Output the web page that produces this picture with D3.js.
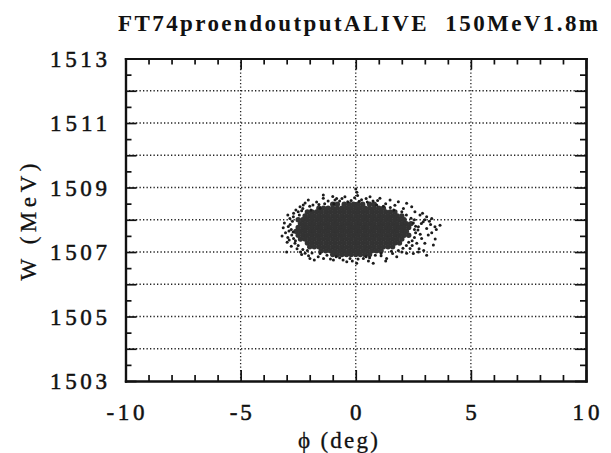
<!DOCTYPE html>
<html><head><meta charset="utf-8">
<script src="https://cdn.jsdelivr.net/npm/d3@7"></script>
<style>html,body{margin:0;padding:0;background:#fff;} svg{display:block}</style>
</head><body><svg id="c" width="611" height="453"></svg>
<script>
const title = "FT74proendoutputALIVE  150MeV1.8m";
const xLabel = "\u03D5 (deg)";
const yLabel = "W (MeV)";
const xDomain = [-10, 10];
const yDomain = [1503, 1513];
const xTickLabels = [-10, -5, 0, 5, 10];
const yTickLabels = [1503, 1505, 1507, 1509, 1511, 1513];
const xMajor = [-10, -5, 0, 5, 10];
const xMinor = [-9,-8,-7,-6,-4,-3,-2,-1,1,2,3,4,6,7,8,9];
const yMajor = [1503,1504,1505,1506,1507,1508,1509,1510,1511,1512,1513];
const yMinor = [1503.5,1504.5,1505.5,1506.5,1507.5,1508.5,1509.5,1510.5,1511.5,1512.5];
const xGrid = [-5, 0, 5];
const yGrid = [1504,1505,1506,1507,1508,1509,1510,1511,1512];

// dense core of the particle cloud, read row by row (W in MeV, phi in deg)
const coreW = [1508.48,1508.36,1508.24,1508.12,1508.00,1507.88,1507.76,1507.64,1507.52,1507.40,1507.28,1507.16,1507.04,1506.92];
const corePhi = [
  [-1.0,-0.8,-0.5,-0.3,-0.1,0.1,0.3,0.6,0.8],
  [-1.6,-1.4,-1.2,-1.0,-0.8,-0.6,-0.4,-0.2,0,0.2,0.4,0.6,0.8,1.0,1.2],
  [-2.1,-1.9,-1.7,-1.5,-1.3,-1.1,-0.9,-0.7,-0.5,-0.3,-0.1,0.1,0.3,0.5,0.7,0.9,1.1,1.3,1.5,1.7],
  [-2.2,-2.0,-1.8,-1.6,-1.4,-1.2,-1.0,-0.8,-0.6,-0.4,-0.2,0,0.2,0.4,0.6,0.8,1.0,1.2,1.4,1.6,1.8,2.0],
  [-2.5,-2.3,-2.1,-1.9,-1.7,-1.5,-1.3,-1.1,-0.9,-0.7,-0.5,-0.3,-0.1,0.1,0.3,0.5,0.7,0.9,1.1,1.3,1.5,1.7,1.9,2.1],
  [-2.4,-2.2,-2.0,-1.8,-1.6,-1.4,-1.2,-1.0,-0.8,-0.6,-0.4,-0.2,0,0.2,0.4,0.6,0.8,1.0,1.2,1.4,1.6,1.8,2.0,2.2,2.4],
  [-2.5,-2.3,-2.1,-1.9,-1.7,-1.5,-1.3,-1.1,-0.9,-0.7,-0.5,-0.3,-0.1,0.1,0.3,0.5,0.7,0.9,1.1,1.3,1.5,1.7,1.9,2.1,2.3],
  [-2.6,-2.4,-2.2,-2.0,-1.8,-1.6,-1.4,-1.2,-1.0,-0.8,-0.6,-0.4,-0.2,0,0.2,0.4,0.6,0.8,1.0,1.2,1.4,1.6,1.8,2.0,2.2],
  [-2.5,-2.3,-2.1,-1.9,-1.7,-1.5,-1.3,-1.1,-0.9,-0.7,-0.5,-0.3,-0.1,0.1,0.3,0.5,0.7,0.9,1.1,1.3,1.5,1.7,1.9,2.1,2.3],
  [-2.4,-2.2,-2.0,-1.8,-1.6,-1.4,-1.2,-1.0,-0.8,-0.6,-0.4,-0.2,0,0.2,0.4,0.6,0.8,1.0,1.2,1.4,1.6,1.8,2.0],
  [-2.1,-1.9,-1.7,-1.5,-1.3,-1.1,-0.9,-0.7,-0.5,-0.3,-0.1,0.1,0.3,0.5,0.7,0.9,1.1,1.3,1.5,1.7,1.9],
  [-2.0,-1.8,-1.6,-1.4,-1.2,-1.0,-0.8,-0.6,-0.4,-0.2,0,0.2,0.4,0.6,0.8,1.0,1.2,1.4,1.6],
  [-1.5,-1.3,-1.1,-0.9,-0.7,-0.5,-0.3,-0.1,0.1,0.3,0.5,0.7,0.9,1.1],
  [-1.0,-0.8,-0.6,-0.4,-0.2,0,0.2,0.4,0.6]
];

// scattered particles at the rim of the cloud
const edgePhi = [-3.15,-2.93,-2.86,-2.71,-2.78,-2.89,-2.64,-2.2,-1.99,-1.63,
  -2.06,-1.86,-1.55,-1.41,-0.9,-2.5,-2.42,-2.28,-3.0,-3.05,
  -2.95,-2.8,-2.55,-2.4,-2.7,-2.6,-3.1,-2.95,-2.2,-1.7,
  -1.2,-1.0,-0.6,-0.83,-0.47,-1.41,-1.8,-1.4,-1.1,-0.97,
  -0.39,0.04,-0.7,-2.05,-2.35,0.05,0.08,-0.05,0.0,0.25,
  0.45,-0.2,0.62,1.05,1.49,1.85,2.21,2.43,2.07,2.57,
  2.79,3.08,3.3,2.93,2.72,3.08,3.44,3.66,3.15,2.86,
  2.65,3.0,3.37,2.36,2.72,3.08,2.21,1.78,1.34,0.76,
  0.33,0.91,1.3,1.7,2.55,2.6,2.8,2.55,2.45,2.0,
  1.6,1.1,0.6,2.9,3.2,3.3,2.5,
  -2.75,-2.8,-2.72,-2.85,-2.7,-2.62,-2.5,-2.45,-2.35,-2.3,
  -2.0,-1.95,-1.6,-1.35,-2.3,-2.1,-1.9,-1.55,-1.25,-2.9,-2.98,-3.2,
  -0.95,-0.7,-0.35,0.15,0.5,0.75,1.2,1.5,1.65,2.0,2.2,0.95,
  2.4,2.5,2.6,2.7,2.55,2.45,2.3,2.2,2.05,1.85,
  1.55,2.85,3.0,3.25,2.75,2.95,3.5,3.45,
  1.1,0.85,0.45,0.1,-0.25,-0.55,-0.85,1.3,0.55,-0.15];
const edgeW = [1507.75,1507.79,1508.04,1508.09,1507.53,1507.37,1507.27,1506.96,1506.8,1506.85,
  1508.61,1508.46,1508.36,1508.67,1508.61,1508.25,1508.40,1508.46,1507.0,1507.6,
  1507.45,1507.18,1507.1,1507.0,1508.2,1508.3,1507.9,1508.15,1508.52,1508.55,
  1508.58,1508.72,1508.66,1508.66,1508.71,1508.77,1506.75,1506.8,1506.78,1506.75,
  1506.7,1506.65,1506.82,1506.88,1506.92,1508.85,1508.75,1508.68,1508.95,1508.62,
  1508.66,1508.6,1508.71,1508.67,1508.61,1508.56,1508.51,1508.40,1508.35,1508.25,
  1508.15,1508.09,1508.04,1507.94,1507.78,1507.73,1507.78,1507.83,1507.53,1507.42,
  1507.27,1507.27,1507.22,1507.11,1507.0,1506.9,1506.96,1506.85,1506.8,1506.65,
  1506.8,1508.46,1508.5,1508.45,1508.0,1507.6,1507.55,1507.45,1507.2,1507.0,
  1506.95,1506.88,1506.82,1508.2,1507.95,1507.6,1506.95,
  1507.95,1507.7,1507.62,1507.85,1507.42,1507.35,1507.2,1508.15,1508.28,1508.35,
  1508.42,1508.3,1508.47,1508.5,1507.08,1507.05,1506.97,1506.95,1506.9,1507.65,1507.3,1507.5,
  1508.5,1508.58,1508.56,1508.57,1508.55,1508.58,1508.42,1508.38,1508.3,1508.25,1508.15,1508.6,
  1508.05,1507.9,1507.8,1507.68,1507.7,1507.35,1507.3,1507.2,1507.12,1507.05,
  1507.02,1507.88,1508.0,1507.85,1507.1,1507.05,1507.7,1507.4,
  1506.95,1506.9,1506.85,1506.78,1506.8,1506.75,1506.85,1506.72,1506.72,1506.72];

const FONT = "'Liberation Serif','Times New Roman',Times,serif";
const svg = d3.select("#c");
const x = d3.scaleLinear().domain(xDomain).range([125.5, 586]);
const y = d3.scaleLinear().domain(yDomain).range([381, 58.5]);

// grid
const grid = svg.append("g").attr("stroke", "#222").attr("stroke-width", 1.3).attr("stroke-dasharray", "1.3,2.2");
grid.selectAll("line.gx").data(xGrid).join("line").attr("class","gx")
  .attr("x1", d => x(d)).attr("x2", d => x(d)).attr("y1", y(yDomain[1])).attr("y2", y(yDomain[0]));
grid.selectAll("line.gy").data(yGrid).join("line").attr("class","gy")
  .attr("y1", d => y(d)).attr("y2", d => y(d)).attr("x1", x(xDomain[0])).attr("x2", x(xDomain[1]));

// points
const corePts = [];
coreW.forEach((w, i) => corePhi[i].forEach(p => corePts.push([p, w])));
svg.append("g").selectAll("circle").data(corePts).join("circle")
  .attr("cx", d => x(d[0])).attr("cy", d => y(d[1])).attr("r", 2.7).attr("fill", "#333");
const edgePts = edgePhi.map((p, i) => [p, edgeW[i]]);
svg.append("g").selectAll("circle").data(edgePts).join("circle")
  .attr("cx", d => x(d[0])).attr("cy", d => y(d[1])).attr("r", 1.5).attr("fill", "#1c1c1c");

// axes (ticks inward)
function style(g) {
  g.select(".domain").attr("stroke", "#111").attr("stroke-width", 2.2).attr("stroke-linecap", "square");
  g.selectAll(".tick line").attr("stroke", "#111").attr("stroke-width", 1.7);
  g.selectAll("text").remove();
}
const b = y(yDomain[0]), t = y(yDomain[1]), l = x(xDomain[0]), r = x(xDomain[1]);
svg.append("g").attr("transform", `translate(0,${b})`).call(d3.axisBottom(x).tickValues(xMinor).tickSize(-6).tickSizeOuter(0)).call(style);
svg.append("g").attr("transform", `translate(0,${b})`).call(d3.axisBottom(x).tickValues(xMajor).tickSize(-11).tickSizeOuter(0)).call(style);
svg.append("g").attr("transform", `translate(0,${t})`).call(d3.axisTop(x).tickValues(xMinor).tickSize(-6).tickSizeOuter(0)).call(style);
svg.append("g").attr("transform", `translate(0,${t})`).call(d3.axisTop(x).tickValues(xMajor).tickSize(-11).tickSizeOuter(0)).call(style);
svg.append("g").attr("transform", `translate(${l},0)`).call(d3.axisLeft(y).tickValues(yMinor).tickSize(-6).tickSizeOuter(0)).call(style);
svg.append("g").attr("transform", `translate(${l},0)`).call(d3.axisLeft(y).tickValues(yMajor).tickSize(-11).tickSizeOuter(0)).call(style);
svg.append("g").attr("transform", `translate(${r},0)`).call(d3.axisRight(y).tickValues(yMinor).tickSize(-6).tickSizeOuter(0)).call(style);
svg.append("g").attr("transform", `translate(${r},0)`).call(d3.axisRight(y).tickValues(yMajor).tickSize(-11).tickSizeOuter(0)).call(style);

// tick labels
const xLabW = {"-10": 38, "-5": 22, "10": 27};
svg.append("g").selectAll("text").data(xTickLabels).join("text")
  .attr("x", d => x(d)).attr("y", 420).attr("text-anchor", "middle")
  .attr("font-family", FONT).attr("font-size", 23).attr("fill", "#111")
  .attr("stroke", "#111").attr("stroke-width", 0.5)
  .each(function(d) { if (xLabW[String(d)]) d3.select(this).attr("textLength", xLabW[String(d)]).attr("lengthAdjust", "spacing"); })
  .text(d => String(d));
svg.append("g").selectAll("text").data(yTickLabels).join("text")
  .attr("x", 107).attr("y", d => y(d) + 8).attr("text-anchor", "end")
  .attr("font-family", FONT).attr("font-size", 23).attr("fill", "#111")
  .attr("stroke", "#111").attr("stroke-width", 0.5)
  .attr("textLength", 57).attr("lengthAdjust", "spacing")
  .text(d => String(d));

// title and axis labels
svg.append("text").attr("x", 118).attr("y", 31).attr("font-family", FONT).attr("font-size", 23)
  .attr("font-weight", "bold").attr("fill", "#111").style("white-space", "pre")
  .attr("textLength", 480).attr("lengthAdjust", "spacing").text(title);
svg.append("text").attr("x", 338).attr("y", 448).attr("text-anchor", "middle").attr("font-family", FONT)
  .attr("font-size", 23).attr("fill", "#111").attr("stroke", "#111").attr("stroke-width", 0.3)
  .attr("textLength", 80).attr("lengthAdjust", "spacing").text(xLabel);
svg.append("text").attr("transform", "translate(36,222) rotate(-90)").attr("text-anchor", "middle").attr("font-family", FONT)
  .attr("font-size", 23).attr("fill", "#111").attr("stroke", "#111").attr("stroke-width", 0.3)
  .attr("textLength", 117).attr("lengthAdjust", "spacing").text(yLabel);
</script></body></html>
